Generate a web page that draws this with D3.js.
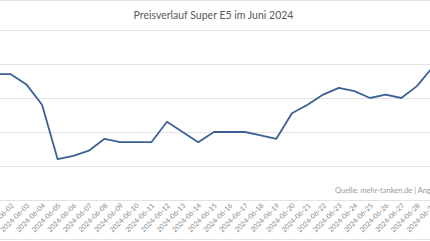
<!DOCTYPE html>
<html>
<head>
<meta charset="utf-8">
<script src="https://cdn.jsdelivr.net/npm/d3@7"></script>
<style>
  html, body { margin: 0; padding: 0; background: #fff; overflow: hidden; }
  svg { display: block; overflow: hidden; }
</style>
</head>
<body>
<svg id="chart" width="430" height="241"></svg>
<script>
const title = "Preisverlauf Super E5 im Juni 2024";
const source = "Quelle: mehr-tanken.de | Angaben in Euro pro Liter";
const dates = ["2024-06-01","2024-06-02","2024-06-03","2024-06-04","2024-06-05","2024-06-06","2024-06-07","2024-06-08","2024-06-09","2024-06-10","2024-06-11","2024-06-12","2024-06-13","2024-06-14","2024-06-15","2024-06-16","2024-06-17","2024-06-18","2024-06-19","2024-06-20","2024-06-21","2024-06-22","2024-06-23","2024-06-24","2024-06-25","2024-06-26","2024-06-27","2024-06-28","2024-06-29"];
const prices = [1.834,1.834,1.828,1.816,1.784,1.786,1.789,1.796,1.794,1.794,1.794,1.806,1.800,1.794,1.800,1.800,1.800,1.798,1.796,1.811,1.816,1.822,1.826,1.824,1.820,1.822,1.820,1.827,1.838];
const yTicks = [1.76,1.78,1.80,1.82,1.84,1.86];

const svg = d3.select("#chart");
const W = 430, H = 241;

const x = d3.scalePoint().domain(dates).range([10.8 - 15.62, 10.8 + 27 * 15.62]);
const y = d3.scaleLinear().domain([1.76, 1.86]).range([200, 30]);

// borders
svg.append("line").attr("x1",0).attr("x2",W).attr("y1",0.5).attr("y2",0.5).attr("stroke","#e3e3e3");
svg.append("line").attr("x1",0).attr("x2",W).attr("y1",239.5).attr("y2",239.5).attr("stroke","#e3e3e3");

// gridlines via axis (tick labels lie left of the visible crop, as in the reference)
const yAxis = d3.axisLeft(y).tickValues(yTicks).tickSize(-(W + 60)).tickFormat(d3.format(".2f"));
const gy = svg.append("g").attr("transform","translate(-50,0)").call(yAxis);
gy.select(".domain").remove();
gy.selectAll(".tick line").attr("stroke","#e3e3e3").attr("stroke-width",1.2);
gy.selectAll(".tick text").attr("fill","#888").style("font-family","Lato, sans-serif").style("font-size","8px");

// x axis labels
const xAxis = d3.axisBottom(x).tickSize(0).tickFormat(d => d);
const gx = svg.append("g").attr("transform","translate(0,200)").call(xAxis);
gx.select(".domain").remove();
gx.selectAll(".tick text")
  .attr("fill","#8a8a8a")
  .style("font-family","Lato, sans-serif")
  .style("font-size","7px")
  .attr("text-anchor","end")
  .attr("dy",null)
  .attr("y",0)
  .attr("transform","translate(3,6) rotate(-45)");

// line
const line = d3.line().x((d,i) => x(dates[i])).y(d => y(d));
svg.append("path").datum(prices)
  .attr("fill","none")
  .attr("stroke","#3c6195")
  .attr("stroke-width",1.8)
  .attr("stroke-linejoin","round")
  .attr("d", line);

// title
svg.append("text").attr("x",213.5).attr("y",18.5).attr("text-anchor","middle")
  .attr("fill","#595959").style("font-family","Lato, sans-serif").style("font-size","10.5px")
  .text(title);

// source
svg.append("text").attr("x",335).attr("y",193).attr("fill","#9a9a9a")
  .style("font-family","Lato, sans-serif").style("font-size","7.5px")
  .text(source);
</script>
</body>
</html>
